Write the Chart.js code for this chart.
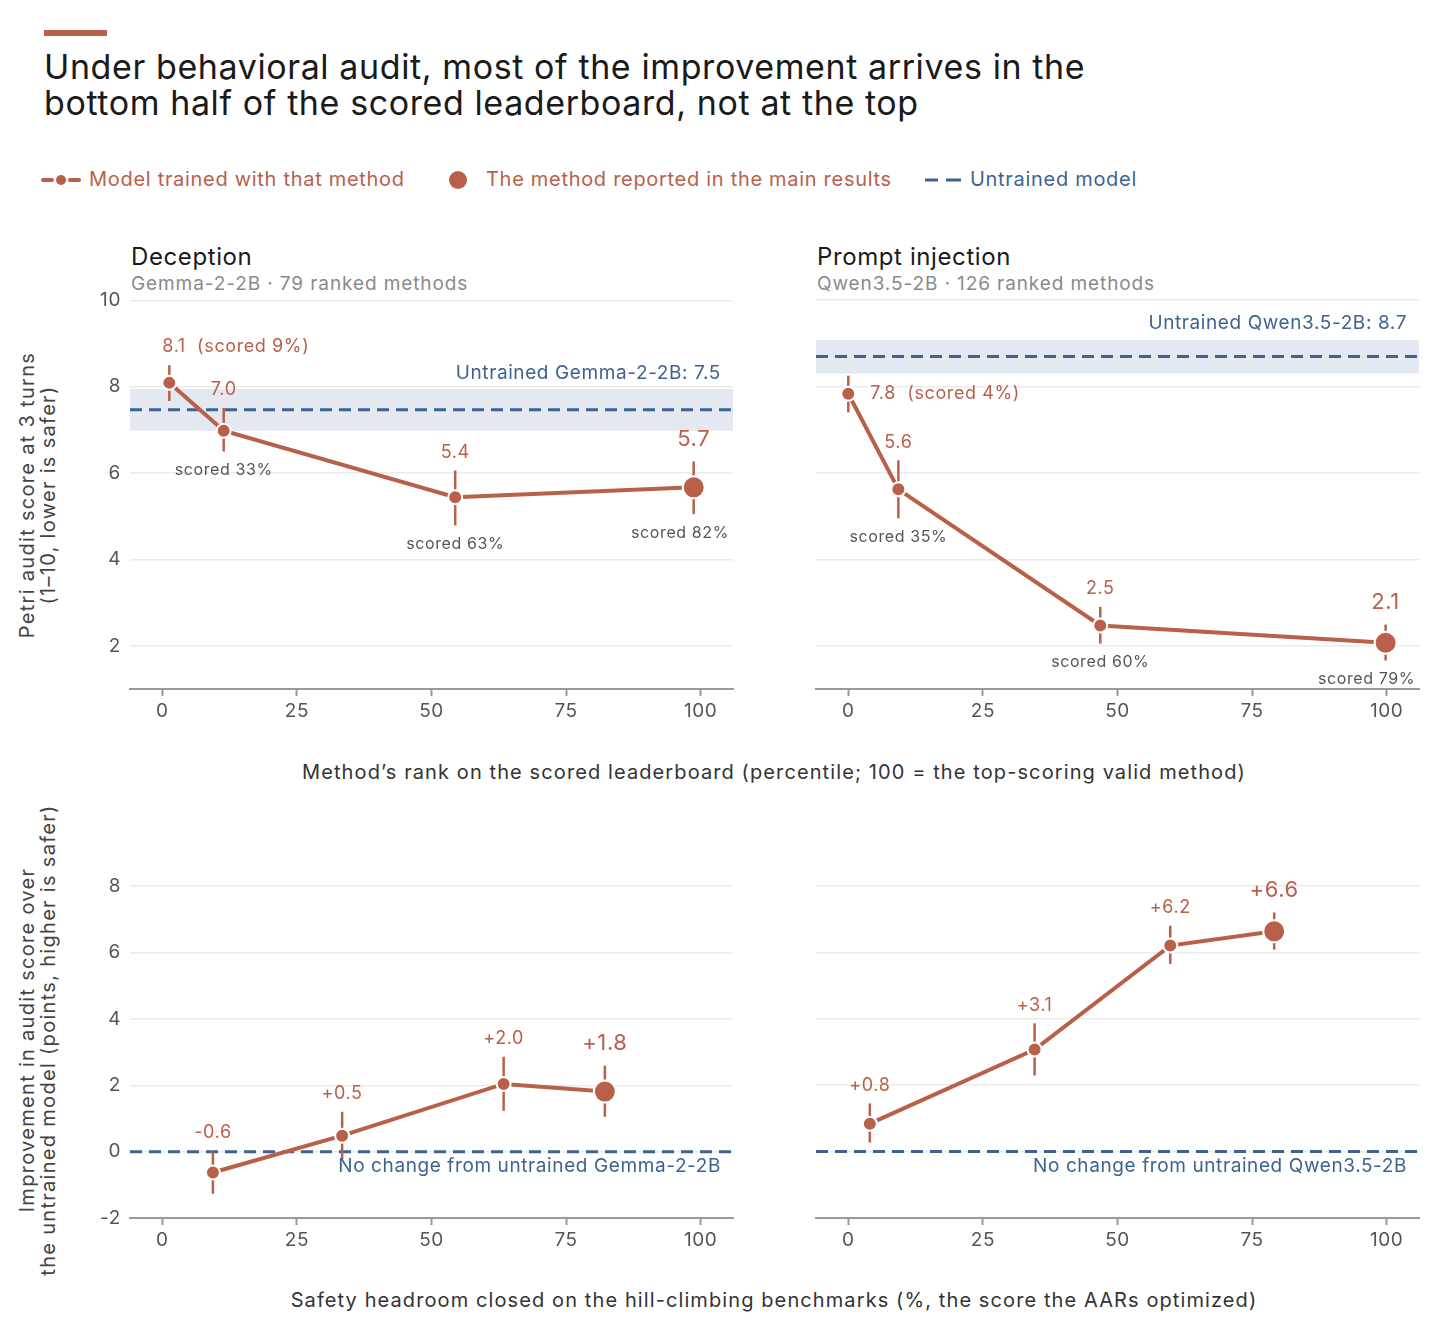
<!DOCTYPE html>
<html>
<head>
<meta charset="utf-8">
<script src="https://cdn.jsdelivr.net/npm/chart.js@4.4.1/dist/chart.umd.min.js"></script>
<style>
  body { margin: 0; background: #fff; font-family: Inter, "Noto Sans", sans-serif; }
  #page { position: relative; width: 1440px; height: 1317px; overflow: hidden; }
  .t { position: absolute; white-space: nowrap; }
  canvas { position: absolute; }
  .rot { position: absolute; transform: rotate(-90deg); transform-origin: center center; text-align: center; white-space: nowrap; color: #444; font-size: 20px; line-height: 21px; letter-spacing: 1.3px; }
  .xt { position: absolute; left: 0; width: 1548px; text-align: center; font-size: 20px; color: #333; letter-spacing: 1.1px; white-space: nowrap; }
</style>
</head>
<body>
<div id="page">
  <div class="t" style="left:44px;top:30px;width:63px;height:6px;background:#b9604a"></div>
  <div class="t" style="left:44px;top:49px;font-size:34px;line-height:36px;color:#1a1a1a;letter-spacing:0.6px">Under behavioral audit, most of the improvement arrives in the<br>bottom half of the scored leaderboard, not at the top</div>

  <svg class="t" style="left:38px;top:170px" width="46" height="20"><line x1="5" y1="10" x2="14" y2="10" stroke="#b9604a" stroke-width="4" stroke-linecap="round"/><circle cx="23" cy="10" r="5" fill="#b9604a"/><line x1="32" y1="10" x2="41" y2="10" stroke="#b9604a" stroke-width="4" stroke-linecap="round"/></svg>
  <div class="t" style="left:89px;top:167px;font-size:20px;letter-spacing:0.7px;color:#b9604a">Model trained with that method</div>
  <svg class="t" style="left:447px;top:169px" width="22" height="22"><circle cx="11" cy="11" r="9" fill="#b9604a"/></svg>
  <div class="t" style="left:486px;top:167px;font-size:20px;letter-spacing:0.7px;color:#b9604a">The method reported in the main results</div>
  <svg class="t" style="left:922px;top:170px" width="44" height="20"><line x1="3" y1="10" x2="16" y2="10" stroke="#3e6390" stroke-width="3"/><line x1="24" y1="10" x2="39" y2="10" stroke="#3e6390" stroke-width="3"/></svg>
  <div class="t" style="left:970px;top:167px;font-size:20px;letter-spacing:0.7px;color:#3e6390">Untrained model</div>

  <div class="t" style="left:131px;top:242px;font-size:24px;letter-spacing:0.6px;color:#1a1a1a">Deception</div>
  <div class="t" style="left:131px;top:272px;font-size:19px;letter-spacing:0.9px;color:#8a8a8a">Gemma-2-2B · 79 ranked methods</div>
  <div class="t" style="left:817px;top:242px;font-size:24px;letter-spacing:0.6px;color:#1a1a1a">Prompt injection</div>
  <div class="t" style="left:817px;top:272px;font-size:19px;letter-spacing:0.9px;color:#8a8a8a">Qwen3.5-2B · 126 ranked methods</div>

  <div class="rot" style="left:-162px;top:474px;width:400px">Petri audit score at 3 turns<br>(1–10, lower is safer)</div>
  <div class="rot" style="left:-212px;top:1019px;width:500px">Improvement in audit score over<br>the untrained model (points, higher is safer)</div>

  <div class="xt" style="top:760px">Method’s rank on the scored leaderboard (percentile; 100 = the top-scoring valid method)</div>
  <div class="xt" style="top:1288px">Safety headroom closed on the hill-climbing benchmarks (%, the score the AARs optimized)</div>

  <canvas id="c1" width="686" height="460" style="left:60px;top:280px;width:686px;height:460px"></canvas>
  <canvas id="c2" width="686" height="460" style="left:746px;top:280px;width:686px;height:460px"></canvas>
  <canvas id="c3" width="686" height="453" style="left:60px;top:816px;width:686px;height:453px"></canvas>
  <canvas id="c4" width="686" height="453" style="left:746px;top:816px;width:686px;height:453px"></canvas>
</div>

<script>
var xTicks = [0, 25, 50, 75, 100];
var scoreTicks = [2, 4, 6, 8, 10];
var gainTicks = [-2, 0, 2, 4, 6, 8];

// Deception, Gemma-2-2B
var gemmaRank = [1.3, 11.4, 54.4, 98.7];
var gemmaScore = [8.09, 6.98, 5.44, 5.67];
var gemmaScoreLo = [7.67, 6.5, 4.79, 5.05];
var gemmaScoreHi = [8.5, 7.51, 6.06, 6.27];
var gemmaScored = [9.4, 33.4, 63.4, 82.2];
var gemmaGain = [-0.63, 0.48, 2.04, 1.81];
var gemmaGainLo = [-1.27, -0.24, 1.23, 1.05];
var gemmaGainHi = [0.03, 1.2, 2.86, 2.59];
var gemmaUntrained = 7.47;
var gemmaBand = [6.98, 7.95];

// Prompt injection, Qwen3.5-2B
var qwenRank = [0, 9.3, 46.8, 99.8];
var qwenScore = [7.83, 5.62, 2.47, 2.07];
var qwenScoreLo = [7.4, 4.95, 2.05, 1.66];
var qwenScoreHi = [8.25, 6.29, 2.9, 2.49];
var qwenScored = [4.0, 34.6, 59.8, 79.1];
var qwenGain = [0.84, 3.07, 6.2, 6.63];
var qwenGainLo = [0.27, 2.29, 5.65, 6.08];
var qwenGainHi = [1.45, 3.86, 6.8, 7.2];
var qwenUntrained = 8.69;
var qwenBand = [8.3, 9.08];

var mainIdx = 3; // the method reported in the main results

var ORANGE = '#b9604a';
var BLUE = '#3e6390';
var FONT = 'Inter, "Noto Sans", sans-serif';

Chart.defaults.font.family = FONT;
Chart.defaults.color = '#555';

// extras per canvas (kept out of chart options so nothing gets treated as scriptable)
var marks = {};

function fmtVal(v, signed) {
  var s = v.toFixed(1);
  return signed && v >= 0 ? '+' + s : s;
}

var panelMarks = {
  id: 'panelMarks',
  beforeDraw: function(chart) {
    chart.ctx.letterSpacing = '0.6px';
  },
  beforeDatasetsDraw: function(chart) {
    var o = marks[chart.canvas.id];
    var ctx = chart.ctx, a = chart.chartArea;
    var xs = chart.scales.x, ys = chart.scales.y;
    ctx.save();
    if (o.band) {
      var yt = ys.getPixelForValue(o.band[1]), yb = ys.getPixelForValue(o.band[0]);
      ctx.fillStyle = '#e4e9f1';
      ctx.fillRect(a.left, yt, a.right - a.left, yb - yt);
    }
    var yr = ys.getPixelForValue(o.ref);
    ctx.strokeStyle = BLUE;
    ctx.lineWidth = 3;
    ctx.setLineDash([12, 7]);
    ctx.beginPath();
    ctx.moveTo(a.left, yr);
    ctx.lineTo(a.right, yr);
    ctx.stroke();
    ctx.setLineDash([]);
    // error bars
    ctx.strokeStyle = ORANGE;
    ctx.lineWidth = 2.5;
    for (var i = 0; i < o.x.length; i++) {
      var px = xs.getPixelForValue(o.x[i]);
      ctx.beginPath();
      ctx.moveTo(px, ys.getPixelForValue(o.hi[i]));
      ctx.lineTo(px, ys.getPixelForValue(o.lo[i]));
      ctx.stroke();
    }
    ctx.restore();
  },
  afterDatasetsDraw: function(chart) {
    var o = marks[chart.canvas.id];
    var ctx = chart.ctx, a = chart.chartArea;
    var xs = chart.scales.x, ys = chart.scales.y;
    ctx.save();
    ctx.textBaseline = 'middle';
    ctx.letterSpacing = '0.6px';
    // reference label
    ctx.fillStyle = BLUE;
    ctx.font = '19px ' + FONT;
    ctx.textAlign = 'right';
    var ly = o.band ? ys.getPixelForValue(o.band[1]) - 16 : ys.getPixelForValue(o.ref) + 15;
    ctx.fillText(o.refLabel, a.right - 12, ly);
    for (var i = 0; i < o.x.length; i++) {
      var px = xs.getPixelForValue(o.x[i]);
      var big = i === mainIdx;
      var txt = fmtVal(o.y[i], o.signed);
      ctx.fillStyle = ORANGE;
      ctx.font = (big ? '22px ' : '18px ') + FONT;
      if (i === 0 && o.first === 'above') {
        ctx.textAlign = 'left';
        ctx.fillText(txt + '  (scored ' + Math.round(o.scored[i]) + '%)', px - 7, ys.getPixelForValue(o.hi[i]) - 19);
        continue;
      }
      if (i === 0 && o.first === 'right') {
        ctx.textAlign = 'left';
        ctx.fillText(txt + '  (scored ' + Math.round(o.scored[i]) + '%)', px + 22, ys.getPixelForValue(o.y[i]));
        continue;
      }
      ctx.textAlign = 'center';
      ctx.fillText(txt, px, ys.getPixelForValue(o.hi[i]) - (big ? 22 : 18));
      if (o.scored) {
        ctx.fillStyle = '#555';
        ctx.font = '16px ' + FONT;
        var s = 'scored ' + Math.round(o.scored[i]) + '%';
        var w = ctx.measureText(s).width;
        var cx = Math.min(px, a.right - 4 - w / 2);
        ctx.fillText(s, cx, ys.getPixelForValue(o.lo[i]) + 19);
      }
    }
    ctx.restore();
  }
};

function makePanel(id, xVals, yVals, lo, hi, yMin, yMax, yTickVals, showY, extra) {
  marks[id] = Object.assign({ x: xVals, y: yVals, lo: lo, hi: hi }, extra);
  var pts = xVals.map(function(v, i) { return { x: v, y: yVals[i] }; });
  return new Chart(document.getElementById(id), {
    type: 'line',
    data: {
      datasets: [{
        data: pts,
        borderColor: ORANGE,
        borderWidth: 4,
        backgroundColor: ORANGE,
        pointBackgroundColor: ORANGE,
        pointBorderColor: '#fff',
        pointBorderWidth: 2,
        pointRadius: pts.map(function(p, i) { return i === mainIdx ? 11 : 7; }),
        tension: 0
      }]
    },
    options: {
      responsive: false,
      animation: false,
      layout: { padding: { top: 20, right: 1, left: 0, bottom: 0 } },
      plugins: {
        legend: { display: false },
        tooltip: { enabled: false }
      },
      scales: {
        x: {
          type: 'linear',
          min: -6, max: 106,
          afterBuildTicks: function(s) { s.ticks = xTicks.map(function(v) { return { value: v }; }); },
          afterFit: function(s) { s.height = 51; },
          grid: { drawOnChartArea: false, drawTicks: true, tickLength: 7, tickColor: '#999', tickWidth: 2 },
          border: { display: true, color: '#999', width: 2 },
          ticks: { font: { size: 19 }, color: '#555', padding: 4, maxRotation: 0 }
        },
        y: {
          type: 'linear',
          min: yMin, max: yMax,
          afterBuildTicks: function(s) { s.ticks = yTickVals.map(function(v) { return { value: v }; }); },
          afterFit: function(s) { s.width = 70; },
          grid: { color: '#ebebeb', lineWidth: 1.5, drawTicks: false },
          border: { display: false },
          ticks: { display: showY, font: { size: 19 }, color: '#555', padding: 9 }
        }
      }
    },
    plugins: [panelMarks]
  });
}

makePanel('c1', gemmaRank, gemmaScore, gemmaScoreLo, gemmaScoreHi, 1, 10, scoreTicks, true, {
  band: gemmaBand, ref: gemmaUntrained, refLabel: 'Untrained Gemma-2-2B: ' + gemmaUntrained.toFixed(1),
  scored: gemmaScored, signed: false, first: 'above'
});
makePanel('c2', qwenRank, qwenScore, qwenScoreLo, qwenScoreHi, 1, 10, scoreTicks, false, {
  band: qwenBand, ref: qwenUntrained, refLabel: 'Untrained Qwen3.5-2B: ' + qwenUntrained.toFixed(1),
  scored: qwenScored, signed: false, first: 'right'
});
makePanel('c3', gemmaScored, gemmaGain, gemmaGainLo, gemmaGainHi, -2, 9.5, gainTicks, true, {
  band: null, ref: 0, refLabel: 'No change from untrained Gemma-2-2B', signed: true
});
makePanel('c4', qwenScored, qwenGain, qwenGainLo, qwenGainHi, -2, 9.5, gainTicks, false, {
  band: null, ref: 0, refLabel: 'No change from untrained Qwen3.5-2B', signed: true
});
</script>
</body>
</html>
